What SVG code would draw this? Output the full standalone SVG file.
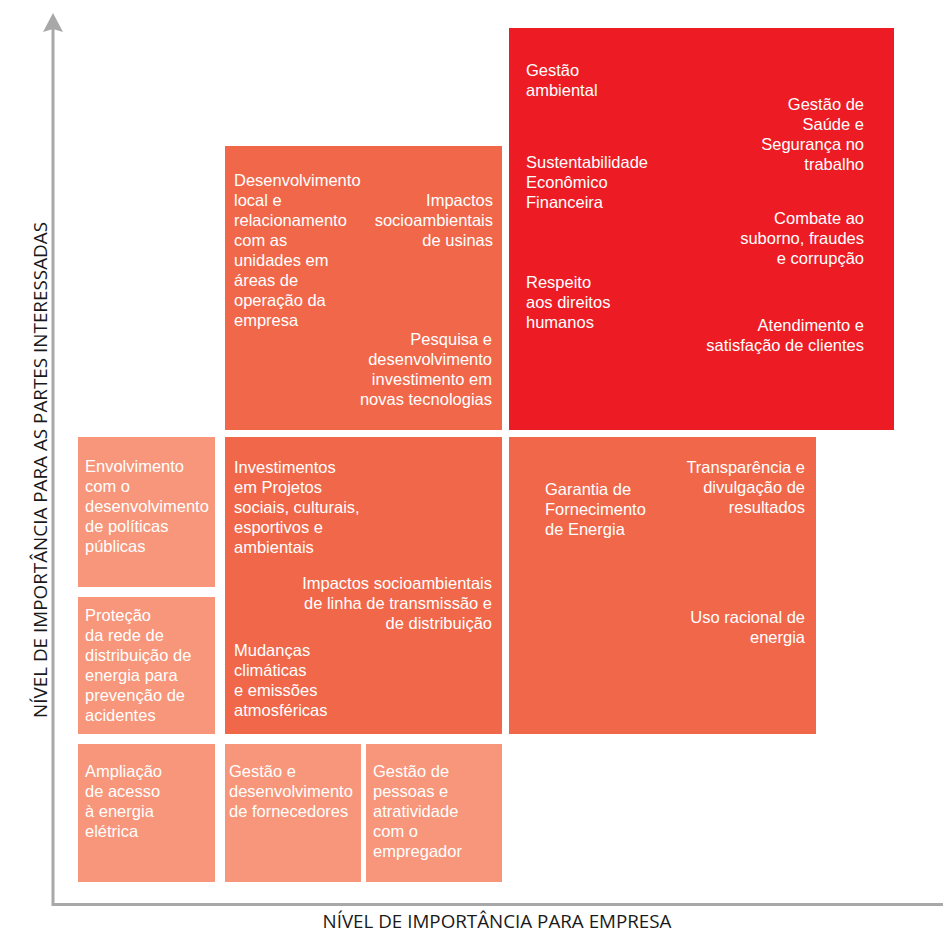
<svg xmlns="http://www.w3.org/2000/svg" width="943" height="933" viewBox="0 0 943 933">
<style>
.red{fill:#ED1C24}
.org{fill:#F1674A}
.lt{fill:#F7967A}
.t{font-family:"Liberation Sans",Arial,sans-serif;font-size:16.5px;fill:#FFFFFF}
.r{text-anchor:end}
.ax{font-family:"Open Sans","Liberation Sans",sans-serif;font-size:18px;fill:#1a1a1a}
.axis{stroke:#A8A8A8;stroke-width:3;fill:none}
.head{fill:#A8A8A8}
</style>
<g id="connectors">
<path class="axis" d="M53,28 L53,904.5 L943,904.5"/>
<path class="head" d="M53,13 L63,32 L53,29 L43,32 Z"/>
</g>
<text class="ax" x="497" y="928" text-anchor="middle" textLength="349" lengthAdjust="spacingAndGlyphs">NÍVEL DE IMPORTÂNCIA PARA EMPRESA</text>
<text class="ax" transform="translate(47,470) rotate(-90)" text-anchor="middle" textLength="496" lengthAdjust="spacingAndGlyphs">NÍVEL DE IMPORTÂNCIA PARA AS PARTES INTERESSADAS</text>

<g id="red-box">
<rect class="red" x="509" y="28" width="385" height="402"/>
<text class="t" x="526" y="76">Gestão</text>
<text class="t" x="526" y="96">ambiental</text>
<text class="t" x="526" y="168">Sustentabilidade</text>
<text class="t" x="526" y="188">Econômico</text>
<text class="t" x="526" y="208">Financeira</text>
<text class="t" x="526" y="288">Respeito</text>
<text class="t" x="526" y="308">aos direitos</text>
<text class="t" x="526" y="328">humanos</text>
<text class="t r" x="864" y="110">Gestão de</text>
<text class="t r" x="864" y="130">Saúde e</text>
<text class="t r" x="864" y="150">Segurança no</text>
<text class="t r" x="864" y="170">trabalho</text>
<text class="t r" x="864" y="224">Combate ao</text>
<text class="t r" x="864" y="244">suborno, fraudes</text>
<text class="t r" x="864" y="264">e corrupção</text>
<text class="t r" x="864" y="331">Atendimento e</text>
<text class="t r" x="864" y="351">satisfação de clientes</text>
</g>

<g id="top-mid-box">
<rect class="org" x="225" y="146" width="277" height="284"/>
<text class="t" x="234" y="186">Desenvolvimento</text>
<text class="t" x="234" y="206">local e</text>
<text class="t" x="234" y="226">relacionamento</text>
<text class="t" x="234" y="246">com as</text>
<text class="t" x="234" y="266">unidades em</text>
<text class="t" x="234" y="286">áreas de</text>
<text class="t" x="234" y="306">operação da</text>
<text class="t" x="234" y="326">empresa</text>
<text class="t r" x="493" y="206">Impactos</text>
<text class="t r" x="493" y="226">socioambientais</text>
<text class="t r" x="493" y="246">de usinas</text>
<text class="t r" x="492" y="345">Pesquisa e</text>
<text class="t r" x="492" y="365">desenvolvimento</text>
<text class="t r" x="492" y="385">investimento em</text>
<text class="t r" x="492" y="405">novas tecnologias</text>
</g>

<g id="mid-left-box">
<rect class="org" x="225" y="437" width="277" height="297"/>
<text class="t" x="234" y="473">Investimentos</text>
<text class="t" x="234" y="493">em Projetos</text>
<text class="t" x="234" y="513">sociais, culturais,</text>
<text class="t" x="234" y="533">esportivos e</text>
<text class="t" x="234" y="553">ambientais</text>
<text class="t r" x="492" y="589">Impactos socioambientais</text>
<text class="t r" x="492" y="609">de linha de transmissão e</text>
<text class="t r" x="492" y="629">de distribuição</text>
<text class="t" x="234" y="656">Mudanças</text>
<text class="t" x="234" y="676">climáticas</text>
<text class="t" x="234" y="696">e emissões</text>
<text class="t" x="234" y="716">atmosféricas</text>
</g>

<g id="mid-right-box">
<rect class="org" x="509" y="437" width="307" height="297"/>
<text class="t" x="545" y="495">Garantia de</text>
<text class="t" x="545" y="515">Fornecimento</text>
<text class="t" x="545" y="535">de Energia</text>
<text class="t r" x="805" y="473">Transparência e</text>
<text class="t r" x="805" y="493">divulgação de</text>
<text class="t r" x="805" y="513">resultados</text>
<text class="t r" x="805" y="623">Uso racional de</text>
<text class="t r" x="805" y="643">energia</text>
</g>

<g id="left-box-1">
<rect class="lt" x="78" y="437" width="137" height="150"/>
<text class="t" x="85" y="472">Envolvimento</text>
<text class="t" x="85" y="492">com o</text>
<text class="t" x="85" y="512">desenvolvimento</text>
<text class="t" x="85" y="532">de políticas</text>
<text class="t" x="85" y="552">públicas</text>
</g>

<g id="left-box-2">
<rect class="lt" x="78" y="597" width="137" height="137"/>
<text class="t" x="85" y="621">Proteção</text>
<text class="t" x="85" y="641">da rede de</text>
<text class="t" x="85" y="661">distribuição de</text>
<text class="t" x="85" y="681">energia para</text>
<text class="t" x="85" y="701">prevenção de</text>
<text class="t" x="85" y="721">acidentes</text>
</g>

<g id="bottom-box-1">
<rect class="lt" x="78" y="744" width="137" height="138"/>
<text class="t" x="85" y="777">Ampliação</text>
<text class="t" x="85" y="797">de acesso</text>
<text class="t" x="85" y="817">à energia</text>
<text class="t" x="85" y="837">elétrica</text>
</g>

<g id="bottom-box-2">
<rect class="lt" x="225" y="744" width="136" height="138"/>
<text class="t" x="229" y="777">Gestão e</text>
<text class="t" x="229" y="797">desenvolvimento</text>
<text class="t" x="229" y="817">de fornecedores</text>
</g>

<g id="bottom-box-3">
<rect class="lt" x="366" y="744" width="136" height="138"/>
<text class="t" x="373" y="777">Gestão de</text>
<text class="t" x="373" y="797">pessoas e</text>
<text class="t" x="373" y="817">atratividade</text>
<text class="t" x="373" y="837">com o</text>
<text class="t" x="373" y="857">empregador</text>
</g>
</svg>
